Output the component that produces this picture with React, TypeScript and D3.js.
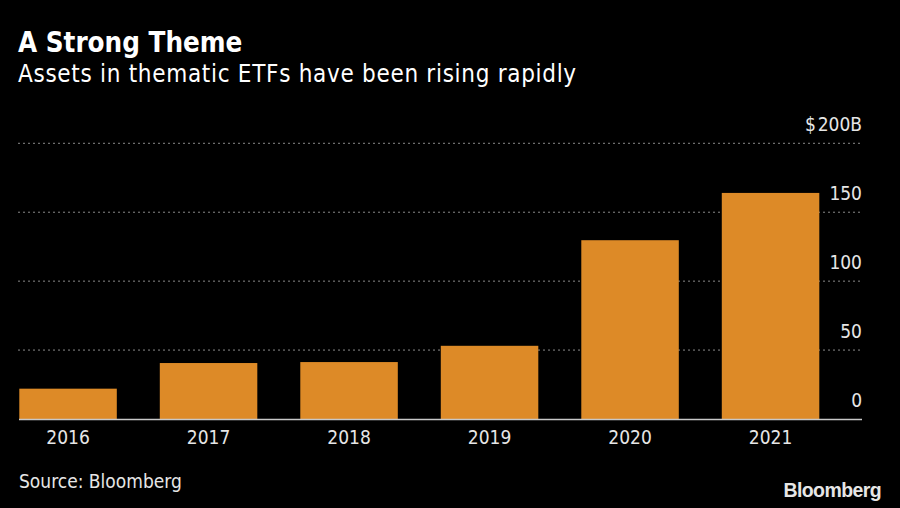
import React, { useEffect, useRef } from 'react';
import * as d3 from 'd3';

// Thematic ETF assets, $ billions
const years = ['2016', '2017', '2018', '2019', '2020', '2021'];
const assets = [22.0, 40.6, 41.3, 53.1, 129.7, 164.0];
const yTicks = [0, 50, 100, 150, 200];

const WIDTH = 900;
const HEIGHT = 508;
const BAR_COLOR = '#dd8a27';
const FONT = '"DejaVu Sans Condensed", "DejaVu Sans", sans-serif';

export default function App() {
  const svgRef = useRef<SVGSVGElement>(null);

  useEffect(() => {
    if (!svgRef.current) return;
    const svg = d3.select(svgRef.current);
    svg.selectAll('*').remove();

    svg.append('rect')
      .attr('width', WIDTH)
      .attr('height', HEIGHT)
      .attr('fill', '#000');

    // titles
    svg.append('text')
      .attr('x', 18)
      .attr('y', 52)
      .attr('fill', '#fff')
      .attr('font-family', FONT)
      .attr('font-weight', 700)
      .attr('font-size', 27.5)
      .text('A Strong Theme');

    svg.append('text')
      .attr('x', 18)
      .attr('y', 82)
      .attr('fill', '#fff')
      .attr('font-family', FONT)
      .attr('font-size', 24)
      .attr('letter-spacing', 0.7)
      .text('Assets in thematic ETFs have been rising rapidly');

    const x = d3.scaleBand<string>()
      .domain(years)
      .range([19.3, 819.3])
      .paddingInner(0.306)
      .paddingOuter(0);

    const y = d3.scaleLinear()
      .domain([0, 200])
      .range([419, 143.3]);

    const gridRight = 862;

    // dotted gridlines (not at zero)
    svg.append('g')
      .selectAll('line')
      .data(yTicks.filter(t => t > 0))
      .join('line')
      .attr('x1', 18)
      .attr('x2', gridRight)
      .attr('y1', d => y(d))
      .attr('y2', d => y(d))
      .attr('stroke', '#8a8a8a')
      .attr('stroke-width', 1)
      .attr('stroke-dasharray', '2,3');

    // bars
    svg.append('g')
      .selectAll('rect')
      .data(years)
      .join('rect')
      .attr('x', d => x(d) || 0)
      .attr('width', x.bandwidth())
      .attr('y', (d, i) => y(assets[i]))
      .attr('height', (d, i) => y(0) - y(assets[i]))
      .attr('fill', BAR_COLOR);

    // baseline
    svg.append('line')
      .attr('x1', 19)
      .attr('x2', gridRight)
      .attr('y1', y(0) + 0.5)
      .attr('y2', y(0) + 0.5)
      .attr('stroke', '#c8c8c8')
      .attr('stroke-width', 1.5);

    // y tick labels on the right, sitting above their gridline
    svg.append('g')
      .selectAll('text')
      .data(yTicks)
      .join('text')
      .attr('x', gridRight)
      .attr('y', d => y(d) - 12)
      .attr('text-anchor', 'end')
      .attr('fill', '#e6e6e6')
      .attr('font-family', FONT)
      .attr('font-size', 19)
      .text(d => (d === 200 ? '$\u200A200B' : String(d)));

    // year labels
    svg.append('g')
      .selectAll('text')
      .data(years)
      .join('text')
      .attr('x', d => (x(d) || 0) + x.bandwidth() / 2)
      .attr('y', 444)
      .attr('text-anchor', 'middle')
      .attr('fill', '#e6e6e6')
      .attr('font-family', FONT)
      .attr('font-size', 19)
      .text(d => d);

    svg.append('text')
      .attr('x', 19)
      .attr('y', 488)
      .attr('fill', '#e6e6e6')
      .attr('font-family', FONT)
      .attr('font-size', 19)
      .text('Source: Bloomberg');

    svg.append('text')
      .attr('x', 881)
      .attr('y', 497)
      .attr('text-anchor', 'end')
      .attr('fill', '#e6e6e6')
      .attr('font-family', '"Liberation Sans", Arial, sans-serif')
      .attr('font-weight', 700)
      .attr('font-size', 19.5)
      .attr('letter-spacing', -0.6)
      .text('Bloomberg');
  }, []);

  return (
    <svg
      ref={svgRef}
      width={WIDTH}
      height={HEIGHT}
      style={{ display: 'block', position: 'absolute', left: 0, top: 0 }}
    />
  );
}
